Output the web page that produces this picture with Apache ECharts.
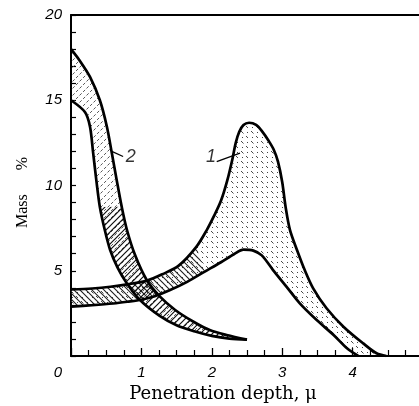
<!DOCTYPE html>
<html>
<head>
<meta charset="utf-8">
<style>
  html, body { margin: 0; padding: 0; background: #fff; }
  #chart { width: 419px; height: 406px; }
</style>
<script src="https://cdn.jsdelivr.net/npm/echarts@6/dist/echarts.min.js"></script>
</head>
<body>
<div id="chart"></div>
<script>
// Concentration profiles (mass %) versus penetration depth (μ), bands 1 and 2.
const band1Upper = [
  [0, 3.9], [0.3, 3.96], [0.56, 4.06], [0.8, 4.2], [1.08, 4.42], [1.3, 4.8],
  [1.53, 5.3], [1.78, 6.4], [1.93, 7.4], [2.03, 8.2], [2.13, 9.1], [2.22, 10.3],
  [2.29, 11.5], [2.34, 12.5], [2.39, 13.15], [2.45, 13.55], [2.53, 13.68],
  [2.63, 13.55], [2.72, 13.15], [2.8, 12.67], [2.88, 12.1], [2.94, 11.4],
  [3.0, 10.2], [3.05, 8.7], [3.11, 7.4], [3.21, 6.22], [3.32, 5.04],
  [3.44, 3.97], [3.63, 2.8], [3.87, 1.72], [4.15, 0.74], [4.34, 0.16], [4.48, 0]
];
const band1Lower = [
  [0, 2.9], [0.3, 2.98], [0.6, 3.08], [0.8, 3.18], [1.0, 3.3], [1.2, 3.52],
  [1.4, 3.85], [1.65, 4.35], [1.9, 4.95], [2.13, 5.5], [2.32, 5.98],
  [2.45, 6.24], [2.59, 6.18], [2.71, 5.9], [2.87, 5.04], [3.06, 4.07],
  [3.25, 3.09], [3.49, 2.11], [3.73, 1.23], [3.92, 0.45], [4.08, 0]
];
const band2Upper = [
  [0, 18.0], [0.12, 17.35], [0.27, 16.37], [0.41, 15.0], [0.51, 13.45],
  [0.58, 11.9], [0.65, 10.3], [0.72, 8.76], [0.795, 7.39], [0.91, 5.92],
  [1.075, 4.46], [1.264, 3.48], [1.48, 2.7], [1.74, 2.01], [1.97, 1.52],
  [2.21, 1.23], [2.5, 0.96]
];
const band2Lower = [
  [0, 15.0], [0.2, 14.3], [0.27, 13.45], [0.315, 11.9], [0.36, 10.3],
  [0.41, 8.74], [0.48, 7.39], [0.556, 6.22], [0.66, 5.2], [0.79, 4.28],
  [0.98, 3.28], [1.26, 2.35], [1.5, 1.8], [1.75, 1.45], [2.0, 1.18],
  [2.25, 1.02], [2.5, 0.96]
];
// Curve labels: leader lines and label anchor points
const label1Leader = [[2.4, 11.9], [2.07, 11.4]];
const label2Leader = [[0.58, 12.0], [0.74, 11.7]];
const curveLabels = [[1.99, 11.67, '1'], [0.85, 11.67, '2']];

const xTicks = [0, 1, 2, 3, 4, 5];
const yTicks = [5, 10, 15, 20];

// Hatch tile: diagonal line, '/' or '\'
function hatchTile(size, dir, width, color, dash) {
  const c = document.createElement('canvas');
  c.width = c.height = size;
  const g = c.getContext('2d');
  g.strokeStyle = color;
  g.lineWidth = width;
  if (dash) g.setLineDash(dash);
  g.beginPath();
  if (dir === '/') {
    g.moveTo(-1, size + 1); g.lineTo(size + 1, -1);
    g.moveTo(-1, 1); g.lineTo(1, -1);
    g.moveTo(size - 1, size + 1); g.lineTo(size + 1, size - 1);
  } else {
    g.moveTo(-1, -1); g.lineTo(size + 1, size + 1);
    g.moveTo(size - 1, -1); g.lineTo(size + 1, 1);
    g.moveTo(-1, size - 1); g.lineTo(1, size + 1);
  }
  g.stroke();
  return c;
}
// Stipple tile: short '\' dashes and dots
function stippleTile() {
  const c = document.createElement('canvas');
  c.width = c.height = 10;
  const g = c.getContext('2d');
  g.strokeStyle = '#333';
  g.lineWidth = 0.9;
  g.beginPath();
  g.moveTo(1, 1); g.lineTo(3.5, 3.5);
  g.moveTo(6, 6); g.lineTo(8, 8);
  g.stroke();
  g.fillStyle = '#444';
  g.fillRect(7, 2, 1, 1);
  g.fillRect(2, 7, 1, 1);
  return c;
}

const fills = {
  stipple: { image: stippleTile(), repeat: 'repeat' },
  back: { image: hatchTile(6, '\\', 1.1, '#222'), repeat: 'repeat' },
  fwd: { image: hatchTile(6, '/', 1.2, '#111'), repeat: 'repeat' },
  fwdLight: { image: hatchTile(7, '/', 0.9, '#444', [3, 2]), repeat: 'repeat' }
};

function polygonSeries(upper, lower, fill) {
  const pts = upper.concat(lower.slice().reverse());
  return {
    type: 'custom',
    silent: true,
    z: 1,
    data: [0],
    renderItem: function (params, api) {
      return {
        type: 'polygon',
        shape: { points: pts.map(p => api.coord(p)) },
        style: { fill: fill, stroke: null }
      };
    }
  };
}

function curveSeries(data) {
  return {
    type: 'line',
    data: data,
    smooth: 0.3,
    showSymbol: false,
    silent: true,
    z: 3,
    lineStyle: { color: '#000', width: 2.7 }
  };
}

function leaderSeries(data) {
  return {
    type: 'line',
    data: data,
    showSymbol: false,
    silent: true,
    z: 4,
    lineStyle: { color: '#000', width: 1.3 }
  };
}

const labelFont = {
  fontFamily: 'Liberation Sans Narrow, Liberation Sans, sans-serif',
  fontStyle: 'italic',
  fontSize: 15,
  color: '#000'
};

const chart = echarts.init(document.getElementById('chart'), null, { renderer: 'canvas' });
chart.setOption({
  animation: false,
  backgroundColor: '#fff',
  grid: { left: 71, top: 15, width: 352, height: 341, outerBoundsMode: 'none', containLabel: false },
  xAxis: [{
    type: 'value', min: xTicks[0], max: xTicks[xTicks.length - 1], interval: 1,
    name: 'Penetration depth, μ',
    nameLocation: 'middle', nameGap: 24,
    nameTextStyle: { fontFamily: 'DejaVu Serif', fontSize: 18, color: '#000', padding: [0, 48, 0, 0] },
    axisLine: { lineStyle: { color: '#000', width: 2 } },
    axisTick: { inside: true, length: 8, lineStyle: { color: '#000', width: 1.3 } },
    minorTick: { show: true, splitNumber: 4, length: 6, lineStyle: { color: '#000', width: 1.2 } },
    splitLine: { show: false },
    axisLabel: Object.assign({}, labelFont, {
      margin: 9,
      hideOverlap: false,
      formatter: v => v === 0 ? '{z|0}' : String(v),
      rich: { z: Object.assign({}, labelFont, { padding: [0, 26, 0, 0] }) }
    })
  }, {
    type: 'value', min: 0, max: 5, position: 'top',
    axisLine: { lineStyle: { color: '#000', width: 2 } },
    axisTick: { show: false }, axisLabel: { show: false }, splitLine: { show: false }
  }],
  yAxis: {
    type: 'value', min: 0, max: yTicks[yTicks.length - 1], interval: 5,
    name: 'Mass      %',
    nameLocation: 'middle', nameGap: 40, nameRotate: 90,
    nameTextStyle: { fontFamily: 'Liberation Serif', fontSize: 16, color: '#000', padding: [0, 14, 0, 0] },
    axisLine: { show: true, lineStyle: { color: '#000', width: 2 } },
    axisTick: { inside: true, length: 5, lineStyle: { color: '#000', width: 1.2 } },
    minorTick: { show: true, splitNumber: 5, length: 5, lineStyle: { color: '#000', width: 1.2 } },
    splitLine: { show: false },
    axisLabel: Object.assign({}, labelFont, {
      margin: 9,
      formatter: v => v === 0 ? '' : String(v)
    })
  },
  series: [
    polygonSeries(band1Upper, band1Lower, fills.stipple),
    polygonSeries(band1Upper.filter(p => p[0] <= 1.9), band1Lower.filter(p => p[0] <= 1.9), fills.back),
    polygonSeries(band2Upper, band2Lower, fills.fwdLight),
    polygonSeries(band2Upper.filter(p => p[1] <= 8.8), band2Lower.filter(p => p[1] <= 8.8), fills.fwd),
    curveSeries(band1Upper),
    curveSeries(band1Lower),
    curveSeries(band2Upper),
    curveSeries(band2Lower),
    leaderSeries(label1Leader),
    leaderSeries(label2Leader),
    {
      type: 'scatter',
      data: curveLabels,
      symbolSize: 0,
      silent: true,
      z: 5,
      label: {
        show: true,
        position: 'inside',
        formatter: p => p.value[2],
        fontFamily: 'Liberation Sans Narrow, Liberation Sans, sans-serif',
        fontStyle: 'italic',
        fontSize: 18,
        color: '#000'
      }
    }
  ]
});
</script>
</body>
</html>
